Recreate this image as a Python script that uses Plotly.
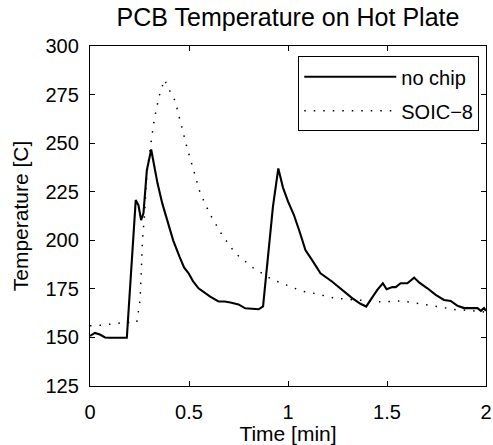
import plotly.graph_objects as go

# Time [min] and temperature [C] for the bare PCB ("no chip")
t_nochip = [0.0, 0.025, 0.05, 0.076, 0.10, 0.14, 0.186, 0.231, 0.245, 0.258, 0.27,
            0.287, 0.309, 0.325, 0.341, 0.365, 0.391, 0.42, 0.452, 0.475, 0.498,
            0.52, 0.548, 0.58, 0.607, 0.649, 0.68, 0.709, 0.75, 0.784, 0.852,
            0.874, 0.924, 0.951, 0.975, 1.0, 1.03, 1.06, 1.088, 1.121, 1.164,
            1.222, 1.273, 1.324, 1.366, 1.395, 1.417, 1.451, 1.479, 1.498, 1.527,
            1.544, 1.569, 1.603, 1.637, 1.662, 1.704, 1.746, 1.788, 1.822, 1.856,
            1.89, 1.957, 1.974, 1.99, 2.0]
temp_nochip = [150.8, 152.3, 151.5, 150.0, 149.8, 149.8, 149.8, 220.7, 218.0, 210.4, 213.9,
               236.0, 246.7, 238.0, 229.3, 219.0, 209.6, 200.0, 191.6, 186.0, 183.0,
               179.0, 175.3, 173.0, 171.0, 168.5, 168.5, 168.0, 167.0, 165.0, 164.5,
               166.0, 217.3, 237.0, 227.0, 220.0, 213.0, 204.0, 195.0, 189.9, 183.0,
               178.8, 174.5, 170.2, 167.3, 165.9, 169.3, 174.5, 177.9, 174.8, 175.9,
               175.9, 177.9, 177.9, 180.8, 178.3, 175.3, 171.9, 169.3, 168.8, 166.3,
               165.1, 165.1, 163.7, 165.1, 163.7]

# Time [min] and temperature [C] with an SOIC-8 package
t_soic = [0.0, 0.06, 0.118, 0.177, 0.236, 0.245, 0.253, 0.258, 0.265, 0.275, 0.287,
          0.307, 0.324, 0.348, 0.376, 0.401, 0.43, 0.459, 0.489, 0.523, 0.557,
          0.607, 0.666, 0.734, 0.823, 0.916, 0.97, 1.02, 1.071, 1.127, 1.181,
          1.232, 1.29, 1.35, 1.41, 1.46, 1.51, 1.569, 1.628, 1.679, 1.737,
          1.792, 1.852, 1.909, 1.965, 2.0]
temp_soic = [156.0, 156.3, 157.0, 157.7, 157.7, 163.3, 169.3, 181.3, 200.2, 212.5, 234.4,
             249.5, 261.8, 273.8, 282.7, 277.2, 271.7, 260.1, 248.1, 236.1, 224.1,
             213.2, 202.9, 193.3, 185.9, 180.0, 177.9, 175.9, 173.8, 172.8, 171.4,
             170.3, 169.7, 169.2, 168.5, 168.4, 168.5, 168.8, 168.0, 167.1, 165.9,
             164.9, 164.2, 164.0, 163.3, 163.0]

x_ticks = [0, 0.5, 1, 1.5, 2]
x_tick_labels = ["0", "0.5", "1", "1.5", "2"]
y_ticks = [125, 150, 175, 200, 225, 250, 275, 300]

FONT = "Liberation Sans, Arial, Helvetica, sans-serif"

fig = go.Figure()
fig.add_trace(go.Scatter(x=t_nochip, y=temp_nochip, mode="lines", name="no chip",
                         legendgroup="a",
                         line=dict(color="black", width=2.1)))
fig.add_trace(go.Scatter(x=t_soic, y=temp_soic, mode="lines", name="SOIC\u22128",
                         legendgroup="b",
                         line=dict(color="black", width=1.5, dash="1.5px,8px")))

axis_common = dict(showline=True, linecolor="black", linewidth=1.3, mirror="ticks",
                   ticks="inside", ticklen=5, tickwidth=1, tickcolor="black",
                   showgrid=False, zeroline=False,
                   tickfont=dict(family=FONT, size=20, color="black"))

fig.update_layout(
    width=493, height=445,
    margin=dict(l=90, r=7, t=46, b=59, autoexpand=False),
    paper_bgcolor="white", plot_bgcolor="white",
    font=dict(family=FONT, color="black"),
    title=dict(text="PCB Temperature on Hot Plate", font=dict(family=FONT, size=25, color="black"),
               x=0.5, xref="paper", xanchor="center", y=0.962, yref="container", yanchor="middle"),
    xaxis=dict(range=[0, 2], tickvals=x_ticks, ticktext=x_tick_labels,
               title=dict(text="Time [min]", font=dict(family=FONT, size=21), standoff=2),
               ticklabelstandoff=8, **axis_common),
    yaxis=dict(range=[125, 300], tickvals=y_ticks,
               title=dict(text="Temperature [C]", font=dict(family=FONT, size=21), standoff=11),
               ticklabelstandoff=6, **axis_common),
    legend=dict(x=0.983, y=0.970, xanchor="right", yanchor="top",
                bordercolor="black", borderwidth=1, bgcolor="white",
                traceorder="grouped", tracegroupgap=5,
                font=dict(family=FONT, size=20, color="black"), itemwidth=92),
    showlegend=True,
)

fig.write_html("out.html", config={"displayModeBar": False},
               post_script="document.body.style.margin='0';document.body.style.padding='0';")
